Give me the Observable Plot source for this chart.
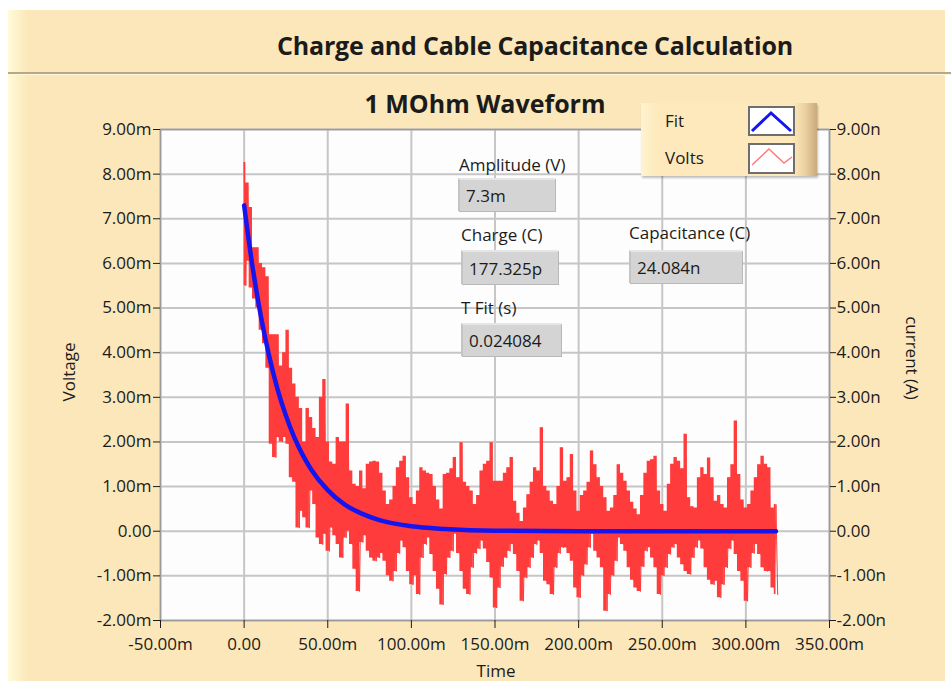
<!DOCTYPE html>
<html><head><meta charset="utf-8">
<script src="https://cdn.jsdelivr.net/npm/d3@7"></script>
<script src="https://cdn.jsdelivr.net/npm/@observablehq/plot@0.6"></script>
<style>
html,body{margin:0;padding:0;background:#fff;}
#wrap{position:relative;width:951px;height:684px;overflow:hidden;font-family:"Open Sans",sans-serif;color:#1b1b1b;}
.abs{position:absolute;line-height:1;white-space:nowrap;}
#panel{position:absolute;left:8px;top:10px;width:937px;height:671px;background:#fbe7b9;}
#strip{position:absolute;left:8px;top:10px;width:20px;height:671px;background:linear-gradient(to right,#fffbd8,#fbe7b9);}
#sep1{position:absolute;left:8px;top:72px;width:943px;height:2px;background:#b8a887;}
#sep2{position:absolute;left:8px;top:74px;width:943px;height:1px;background:#fff6de;}
#plotbox{position:absolute;left:0;top:0;}
.lbl{font-size:17px;}
.ind{position:absolute;background:#d4d4d4;border-top:2px solid #e6e6e6;border-left:2px solid #c4c4c4;box-shadow:1px 1px 0 #b8b8b8;box-sizing:border-box;font-size:17px;line-height:1;padding-left:6px;display:flex;align-items:center;}
#legend{position:absolute;left:641px;top:103px;width:176px;height:73px;background:linear-gradient(to right,#fff3cf 0%,#fde9bb 10%,#fde9bb 86%,#ecd2a2 93%,#c9aa7c 100%);box-shadow:1px 2px 2px rgba(0,0,0,0.25);}
</style></head>
<body>
<div id="wrap">
  <div id="panel"></div>
  <div id="strip"></div>
  <div id="sep1"></div>
  <div id="sep2"></div>
  <div id="plotbox"></div>
  <div class="abs" style="left:535px;top:45px;transform:translate(-50%,-50%);font-size:25px;font-weight:700;letter-spacing:-0.2px;">Charge and Cable Capacitance Calculation</div>
  <div class="abs" style="left:485px;top:103px;transform:translate(-50%,-50%);font-size:25px;font-weight:700;">1 MOhm Waveform</div>
  <div class="abs lbl" style="left:68px;top:372px;transform:translate(-50%,-50%) rotate(-90deg);">Voltage</div>
  <div class="abs lbl" style="left:912px;top:358px;transform:translate(-50%,-50%) rotate(90deg);">current (A)</div>
  <div class="abs lbl" style="left:496px;top:670px;transform:translate(-50%,-50%);">Time</div>

  <div class="abs lbl" style="left:459px;top:156px;">Amplitude (V)</div>
  <div class="ind" style="left:458px;top:178px;width:97px;height:33px;" id="ampBox"></div>
  <div class="abs lbl" style="left:461px;top:226px;">Charge (C)</div>
  <div class="ind" style="left:461px;top:250px;width:97px;height:34px;" id="chgBox"></div>
  <div class="abs lbl" style="left:629px;top:224px;">Capacitance (C)</div>
  <div class="ind" style="left:629px;top:250px;width:113px;height:33px;" id="capBox"></div>
  <div class="abs lbl" style="left:461px;top:299px;">T Fit (s)</div>
  <div class="ind" style="left:461px;top:323px;width:100px;height:33px;" id="tfitBox"></div>

  <div id="legend">
    <div class="abs lbl" style="left:24px;top:9px;">Fit</div>
    <div class="abs lbl" style="left:24px;top:46px;">Volts</div>
    <svg style="position:absolute;left:107px;top:3px;" width="47" height="30">
      <rect x="1" y="1" width="45" height="28" fill="#fff" stroke="#6e6e6e" stroke-width="2"/>
      <polyline points="4,25 23,7 43,25" fill="none" stroke="#1515f0" stroke-width="3"/>
    </svg>
    <svg style="position:absolute;left:107px;top:40px;" width="47" height="31">
      <rect x="1" y="1" width="45" height="29" fill="#fff" stroke="#6e6e6e" stroke-width="2"/>
      <polyline points="4,22 21,6 36,20 44,14" fill="none" stroke="#ff7a7a" stroke-width="1.5"/>
    </svg>
  </div>
</div>
<script>
// ---- data ----
const xTicks = [-50, 0, 50, 100, 150, 200, 250, 300, 350];          // ms
const yTicks = [-2, -1, 0, 1, 2, 3, 4, 5, 6, 7, 8, 9];               // mV (left) / nA (right)
const sampleStepMs = 2;
// noisy "Volts" trace: upper and lower swing of each 2 ms sample pair (mV)
const voltsHi = [8.26,7.80,7.25,6.35,6.35,6.00,5.90,5.70,4.40,4.40,4.40,3.70,4.00,4.50,3.65,3.30,3.00,2.75,2.00,2.75,
  2.55,2.30,2.10,3.00,3.40,2.00,1.55,1.50,2.10,2.00,2.00,2.85,1.35,1.05,1.00,1.35,0.95,1.50,1.55,1.57,
  1.55,1.30,0.90,0.60,0.70,1.00,1.42,1.57,1.68,1.20,0.75,0.60,0.90,1.42,1.35,1.30,1.27,1.00,0.70,0.50,
  1.27,1.30,1.40,1.65,1.20,1.98,1.10,1.00,0.90,0.60,0.80,1.35,1.50,1.57,1.98,1.12,1.12,1.12,1.30,1.42,
  1.65,0.67,0.40,0.22,0.52,0.82,1.10,1.42,1.35,2.32,1.00,0.90,0.67,0.60,1.00,1.87,1.12,1.20,1.72,0.90,
  0.45,0.80,0.90,1.10,1.80,1.49,1.20,1.00,0.75,0.45,0.52,0.80,1.49,1.30,1.12,0.90,0.65,0.50,0.37,0.80,
  1.30,1.57,1.60,1.68,0.90,0.60,0.45,1.05,1.50,1.65,1.57,1.40,2.17,0.75,0.55,0.52,1.20,1.42,1.27,1.64,
  1.20,0.67,0.80,0.60,0.52,1.20,1.49,2.47,1.27,0.70,0.52,0.60,0.90,1.20,1.49,1.68,1.50,1.42,0.52,0.60];
const voltsLo = [5.50,6.05,5.45,5.20,5.00,4.50,4.20,3.65,1.95,1.65,2.10,2.00,2.10,1.95,1.20,1.10,0.07,0.45,0.30,0.07,
  0.90,0.60,-0.15,-0.30,-0.07,-0.45,0.07,-0.10,-0.30,-0.60,-0.15,0.00,-0.30,-0.85,-1.35,-0.25,-0.10,-0.45,-0.60,-0.67,
  -0.60,-0.50,-0.67,-1.00,-1.12,-0.90,-0.50,-0.22,-0.37,-0.90,-1.20,-1.00,-1.42,-0.60,-0.30,-0.15,-0.52,-0.90,-1.30,-1.65,
  -0.97,-0.60,-0.45,-0.07,-0.50,-0.90,-1.30,-1.42,-0.82,-0.50,-0.40,-0.22,-0.40,-0.70,-1.05,-1.72,-1.27,-0.80,-0.60,-0.45,
  -0.30,-0.52,-0.90,-1.57,-1.05,-0.82,-0.60,-0.30,-0.22,-0.50,-1.12,-1.20,-1.42,-0.82,-0.50,-0.37,-0.37,-0.50,-0.67,-1.27,
  -1.49,-1.00,-0.75,-0.37,-0.07,-0.45,-0.60,-0.82,-1.79,-1.42,-1.00,-0.67,-0.15,-0.30,-0.45,-0.82,-1.10,-1.27,-1.35,-0.80,
  -0.45,-0.37,-0.60,-0.82,-1.42,-1.00,-0.82,-0.52,-0.37,-0.30,-0.60,-0.75,-0.90,-0.97,-0.60,-0.37,-0.22,-0.40,-0.82,-1.10,
  -1.20,-1.12,-1.49,-1.20,-0.82,-0.40,-0.22,-0.52,-0.90,-1.12,-1.57,-0.82,-0.50,-0.30,-0.52,-0.82,-0.90,-0.90,-1.27,-1.42];
// exponential "Fit" trace (mV) at these times (ms)
const fitTimeMs = [0,5,10,15,20,25,30,35,40,50,60,70,80,90,100,120,150,200,250,318];
const fitVolts  = [7.30,5.93,4.82,3.92,3.18,2.59,2.10,1.71,1.39,0.92,0.60,0.40,0.26,0.17,0.11,0.05,0.01,0.00,0.00,0.00];
// indicator readouts
const indicators = {ampBox: "7.3m", chgBox: "177.325p", capBox: "24.084n", tfitBox: "0.024084"};

// ---- build tables ----
const band = voltsHi.map((h, i) => ({t: i * sampleStepMs, hi: h, lo: voltsLo[i]}));
const volts = voltsHi.flatMap((h, i) => [
  {t: i * sampleStepMs, v: h},
  {t: i * sampleStepMs + sampleStepMs / 2, v: voltsLo[i]}
]);
const fit = fitTimeMs.map((t, i) => ({t, v: fitVolts[i]}));

for (const [id, txt] of Object.entries(indicators)) document.getElementById(id).textContent = txt;

const fmt = (suffix) => (d) => d === 0 ? "0.00" : (d < 0 ? "-" : "") + Math.abs(d).toFixed(2) + suffix;

const chart = Plot.plot({
  width: 951,
  height: 684,
  marginLeft: 160,
  marginRight: 122,
  marginTop: 129,
  marginBottom: 64,
  style: {background: "transparent", fontFamily: "Open Sans, sans-serif", fontSize: "17px", color: "#1b1b1b", overflow: "visible"},
  x: {domain: [-50, 350]},
  y: {domain: [-2, 9]},
  marks: [
    Plot.frame({fill: "#fdfdfd"}),
    Plot.gridX(xTicks, {stroke: "#c6c6c6", strokeWidth: 2, strokeOpacity: 1}),
    Plot.gridY(yTicks, {stroke: "#c6c6c6", strokeWidth: 2, strokeOpacity: 1}),
    Plot.areaY(band, {x: "t", y1: "lo", y2: "hi", fill: "#ff3c3c", fillOpacity: 1, curve: "step"}),
    Plot.line(volts, {x: "t", y: "v", stroke: "#ff3c3c", strokeWidth: 1}),
    Plot.line(fit, {x: "t", y: "v", stroke: "#1515f0", strokeWidth: 4.5, curve: "monotone-x"}),
    Plot.frame({stroke: "#9a9a9a", strokeWidth: 1.5}),
    Plot.axisY(yTicks, {anchor: "left", tickFormat: fmt("m"), tickSize: 7, tickPadding: 2, label: null, fontSize: 17}),
    Plot.axisY(yTicks, {anchor: "right", tickFormat: fmt("n"), tickSize: 6, tickPadding: 1, label: null, fontSize: 17}),
    Plot.axisX(xTicks, {anchor: "bottom", tickFormat: fmt("m"), tickSize: 8, tickPadding: 9, label: null, fontSize: 17})
  ]
});
document.getElementById("plotbox").appendChild(chart);
</script>
</body></html>
